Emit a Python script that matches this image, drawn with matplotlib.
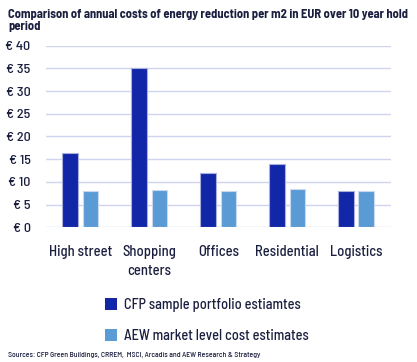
import matplotlib
matplotlib.use("Agg")
import matplotlib.pyplot as plt
import numpy as np
from matplotlib.patches import Patch

categories = ["High street", "Shopping\ncenters", "Offices", "Residential", "Logistics"]
cfp_values = [16.4, 35.0, 12.0, 13.9, 8.1]
aew_values = [8.1, 8.2, 8.0, 8.4, 8.0]
yticks = [0, 5, 10, 15, 20, 25, 30, 35, 40]
ytick_labels = [f"€ {v}" for v in yticks]
series_names = ["CFP sample portfolio estiamtes", "AEW market level cost estimates"]

title = "Comparison of annual costs of energy reduction per m2 in EUR over 10 year hold\nperiod"
source = "Sources: CFP Green Buildings, CRREM,  MSCI, Arcadis and AEW Research & Strategy"

plt.rcParams['font.family'] = ['Barlow Semi Condensed', 'DejaVu Sans']
text_color = "#1b1f3f"
dark = "#1226A8"
light = "#5B9BD5"
grid_color = "#D0D4EC"

fig = plt.figure(figsize=(4.17, 3.62), dpi=100)
ax = fig.add_axes([0.11, 0.372, 0.827, 0.502])

x = np.arange(len(categories))
w = 0.227
off = 0.146
ax.bar(x - off, cfp_values, width=w, color=dark, edgecolor="#A9B0DC", linewidth=0.8, zorder=3)
ax.bar(x + off, aew_values, width=w, color=light, edgecolor="#C9D9F0", linewidth=0.8, zorder=3)

ax.set_xlim(-0.5, len(categories) - 0.5)
ax.set_ylim(0, 40)
ax.set_yticks(yticks)
ax.set_yticklabels(ytick_labels, fontsize=10.2, color=text_color, fontweight='medium')
ax.set_xticks(x)
ax.set_xticklabels(categories, fontsize=10.5, color=text_color, linespacing=1.4, fontweight='medium')
ax.tick_params(axis='x', length=0, pad=13)
ax.tick_params(axis='y', length=0, pad=11)
ax.grid(axis='y', color=grid_color, linewidth=1.0, zorder=0)
for s in ax.spines.values():
    s.set_visible(False)

fig.text(0.019, 0.975, title, fontsize=9, fontweight='bold', color=text_color,
         va='top', ha='left', linespacing=1.1)

handles = [Patch(facecolor=dark, edgecolor='none'), Patch(facecolor=light, edgecolor='none')]
fig.legend(handles, series_names, loc='upper left', bbox_to_anchor=(0.252, 0.177),
           frameon=False, prop={'size': 10.3, 'weight': 'medium'},
           handlelength=0.85, handleheight=0.85,
           handletextpad=0.45, labelspacing=1.2, labelcolor=text_color,
           borderaxespad=0, borderpad=0)

fig.text(0.019, 0.01, source, fontsize=5.6, color=text_color, fontweight='medium',
         va='bottom', ha='left')

fig.savefig("out.png", dpi=100)
